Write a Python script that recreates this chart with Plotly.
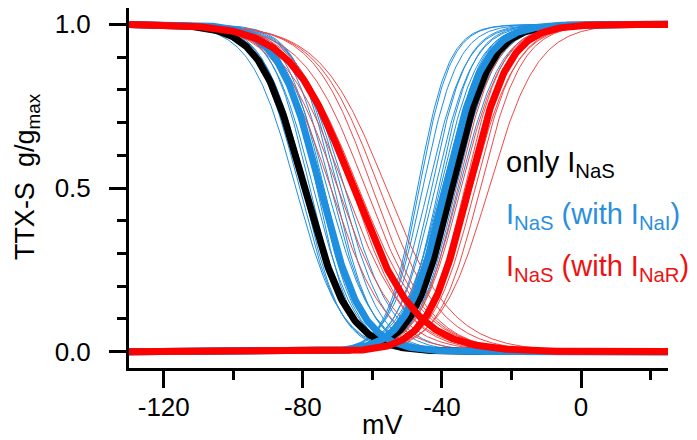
import numpy as np
import plotly.graph_objects as go

# Boltzmann fit parameters (V1/2 in mV, slope k in mV)
blue_inact_vhalf = [-82, -81, -80, -79, -78, -77, -76, -75.5, -75, -74, -73, -72, -71, -70, -69, -68]
blue_inact_k = [6.5, 6, 5.5, 6, 5.5, 6, 5, 5.5, 6, 5.5, 6.5, 6, 5.5, 6, 6.5, 7]
blue_act_vhalf = [-47, -46.5, -45.5, -44, -43, -42, -41, -40.5, -40, -39.5, -39, -38, -37.5, -36.5, -36, -35]
blue_act_k = [4.5, 4.5, 5, 5.5, 5, 5.5, 5, 5.5, 6, 5.5, 5, 6, 5.5, 6, 5.5, 6]
red_inact_vhalf = [-72, -70, -68, -66, -64, -62, -60, -58, -56]
red_inact_k = [8, 8.5, 9, 8, 9.5, 9, 8.5, 9, 9.5]
red_act_vhalf = [-37, -35.5, -34.5, -33.5, -32.5, -31.5, -30.5, -29, -26.5]
red_act_k = [6, 5.5, 6, 5.5, 6, 6.5, 6, 6, 7]

# mean fits: (inact V1/2, inact k, act V1/2, act k)
black_fit = (-79.5, 6.4, -37.2, 5.6)
blue_fit = (-75.0, 6.0, -39.0, 5.6)
red_fit = (-65.5, 9.0, -32.3, 5.8)

x_ticks = [-120, -80, -40, 0]
x_ticklabels = ["-120", "-80", "-40", "0"]
y_ticks = [0, 0.5, 1]
y_ticklabels = ["0.0", "0.5", "1.0"]

v = np.linspace(-130, 25, 400)

BLUE = "#1f8fe0"
RED = "#ff0000"


def inact(vh, k):
    return 1 / (1 + np.exp((v - vh) / k))


def act(vh, k):
    return 1 / (1 + np.exp(-(v - vh) / k))


fig = go.Figure()

for vh, k in zip(blue_inact_vhalf, blue_inact_k):
    fig.add_trace(go.Scatter(x=v, y=inact(vh, k), mode="lines", line=dict(color=BLUE, width=1)))
for vh, k in zip(blue_act_vhalf, blue_act_k):
    fig.add_trace(go.Scatter(x=v, y=act(vh, k), mode="lines", line=dict(color=BLUE, width=1)))
for vh, k in zip(red_inact_vhalf, red_inact_k):
    fig.add_trace(go.Scatter(x=v, y=inact(vh, k), mode="lines", line=dict(color="#f04848", width=1)))
for vh, k in zip(red_act_vhalf, red_act_k):
    fig.add_trace(go.Scatter(x=v, y=act(vh, k), mode="lines", line=dict(color="#f04848", width=1)))

for fit, col in [(black_fit, "black"), (blue_fit, BLUE), (red_fit, RED)]:
    fig.add_trace(go.Scatter(x=v, y=inact(fit[0], fit[1]), mode="lines", line=dict(color=col, width=7)))
    fig.add_trace(go.Scatter(x=v, y=act(fit[2], fit[3]), mode="lines", line=dict(color=col, width=7)))

font = dict(family="Liberation Sans, Arial", size=26, color="black")

fig.update_layout(
    width=697, height=440,
    margin=dict(l=121, r=37, t=0, b=80),
    plot_bgcolor="white", paper_bgcolor="white",
    showlegend=False,
    font=font,
    xaxis=dict(range=[-130, 25], showline=True, linewidth=3, linecolor="black",
               showgrid=False, zeroline=False, ticks="outside", ticklen=17, tickwidth=3,
               tickcolor="black", tickvals=x_ticks, ticktext=x_ticklabels, ticklabelstandoff=-3,
               minor=dict(tickvals=[-100, -60, -20, 20], ticks="outside", ticklen=9,
                          tickwidth=3, tickcolor="black", showgrid=False)),
    yaxis=dict(range=[-0.05, 1.05], showline=True, linewidth=3, linecolor="black",
               showgrid=False, zeroline=False, ticks="outside", ticklen=17, tickwidth=3,
               tickcolor="black", tickvals=y_ticks, ticktext=y_ticklabels,
               ticklabelstandoff=13,
               minor=dict(dtick=0.1, ticks="outside", ticklen=9, tickwidth=3,
                          tickcolor="black", showgrid=False)),
)

ann = dict(size=29, family="Liberation Sans, Arial")
fig.add_annotation(x=-22.2, y=0.574, xref="x", yref="y", xanchor="left", yanchor="middle",
                   text="only I<sub>NaS</sub>", showarrow=False, font=dict(color="black", **ann))
fig.add_annotation(x=-22.2, y=0.415, xref="x", yref="y", xanchor="left", yanchor="middle",
                   text="I<sub>NaS</sub> (with I<sub>NaI</sub>)", showarrow=False,
                   font=dict(color="#2a8fdc", **ann))
fig.add_annotation(x=-22.2, y=0.256, xref="x", yref="y", xanchor="left", yanchor="middle",
                   text="I<sub>NaS</sub> (with I<sub>NaR</sub>)", showarrow=False,
                   font=dict(color="#ee1111", **ann))
fig.add_annotation(x=-0.2245, y=0.533, xref="paper", yref="paper", xanchor="left", yanchor="middle",
                   text="TTX-S  g/g<sub>max</sub>", textangle=-90, showarrow=False,
                   font=dict(color="black", size=27, family="Liberation Sans, Arial"))
fig.add_annotation(x=0.471, y=-0.157, xref="paper", yref="paper", xanchor="center", yanchor="middle",
                   text="mV", showarrow=False,
                   font=dict(color="black", size=27, family="Liberation Sans, Arial"))

fig.write_html("out.html")
